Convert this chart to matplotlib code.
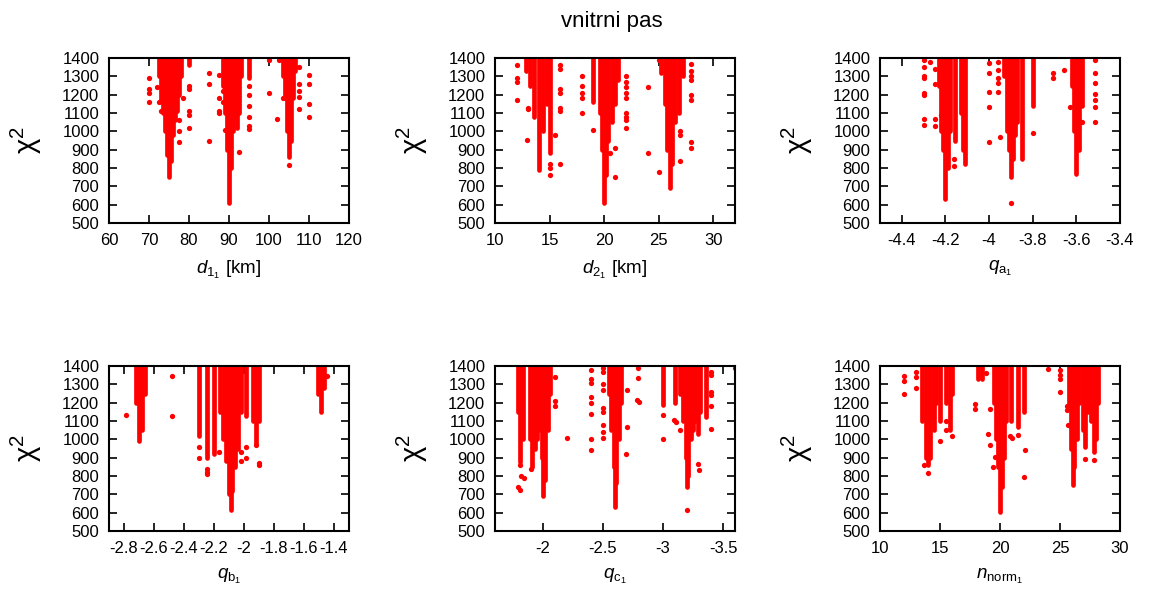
import matplotlib
matplotlib.use('Agg')
import matplotlib.pyplot as plt
from matplotlib.ticker import FormatStrFormatter

plt.rcParams['font.family'] = ['Liberation Sans', 'DejaVu Sans']
plt.rcParams['mathtext.fontset'] = 'custom'
plt.rcParams['mathtext.rm'] = 'Liberation Sans'
plt.rcParams['mathtext.it'] = 'Liberation Sans:italic'
plt.rcParams['axes.unicode_minus'] = False

RED = '#ff0000'
CHI_TOP = 1400

# ---- d_1_1 [km] ----
# dense columns: x and the lowest chi2 reached (they all run up to the top)
d11_strip_x = [72.5, 73.0, 73.5, 74.0, 74.5, 75.0, 75.5, 76.0, 76.5, 77.0, 77.5, 78.0, 80.0,
               88.5, 89.0, 89.5, 90.0, 90.5, 91.0, 91.5, 92.0, 92.5, 93.0, 95.0,
               103.5, 104.0, 104.5, 105.0, 105.5, 106.0, 106.5]
d11_strip_lo = [1300, 1170, 1100, 1000, 870, 750, 840, 980, 1060, 1110, 1200, 1300, 1360,
                1250, 1100, 900, 610, 800, 1000, 1080, 1020, 1100, 1300, 1290,
                1300, 1180, 1000, 860, 950, 1180, 1330]
d11_dot_x = [70, 70, 70, 70, 72, 72.5, 73, 77.5, 77.5, 77.5, 78.5, 80, 80, 80, 80, 80,
             85, 85, 85, 87.5, 87.5, 87.5, 87.5, 88.5, 88.5, 89, 92.5,
             95, 95, 95, 95, 95, 95, 100, 100, 102.5, 102, 103.5, 105,
             107.5, 107.5, 107.5, 107.5, 107.5, 110, 110, 110, 110]
d11_dot_y = [1290, 1230, 1210, 1160, 1240, 1160, 1110, 1060, 1000, 940, 1180, 1250, 1230, 1110, 1090, 1020,
             1320, 1260, 945, 1310, 1180, 1110, 1100, 1220, 1160, 1010, 890,
             1250, 1200, 1140, 1080, 1030, 1015, 1390, 1210, 1390, 1065, 1180, 815,
             1350, 1260, 1220, 1190, 1120, 1310, 1260, 1150, 1080]

# ---- d_2_1 [km] ----
d21_strip_x = [12.8, 13.2, 13.6, 14.0, 14.4, 14.8, 15.0,
               19.0, 19.6, 19.8, 20.0, 20.2, 20.4, 20.7, 21.0, 21.3,
               25.2, 25.6, 25.8, 26.0, 26.2, 26.5, 26.9, 27.2]
d21_strip_lo = [1330, 1250, 1080, 790, 1000, 1150, 880,
                1160, 1100, 900, 610, 760, 950, 1050, 1150, 1280,
                1320, 1150, 900, 690, 820, 1050, 1100, 1300]
d21_dot_x = [12, 12, 12, 12, 13, 13, 12.9, 15, 15, 15, 15.5, 16, 16, 16, 16, 16, 16, 16,
             18, 18, 18, 18, 18, 19, 20.5, 21, 21,
             22, 22, 22, 22, 22, 22, 22, 22, 22, 24, 24, 25, 25, 27, 27, 27,
             28, 28, 28, 28, 28, 28, 28, 28]
d21_dot_y = [1360, 1290, 1270, 1170, 1130, 1120, 955, 820, 800, 760, 980, 1360, 1340, 1230, 1210, 1130, 1110, 820,
             1300, 1250, 1210, 1180, 1100, 1010, 880, 910, 750,
             1300, 1270, 1240, 1210, 1180, 1100, 1080, 1060, 1020, 1240, 880, 1390, 780, 1000, 980, 840,
             1370, 1330, 1300, 1280, 1200, 1170, 940, 910]

# ---- q_a_1 ----
qa1_strip_x = [-4.23, -4.22, -4.21, -4.20, -4.19, -4.18, -4.155, -4.13, -4.12, -4.11,
               -3.93, -3.92, -3.91, -3.90, -3.89, -3.88, -3.87, -3.85, -3.80,
               -3.62, -3.61, -3.60, -3.59, -3.576]
qa1_strip_lo = [1250, 1000, 900, 630, 800, 1000, 950, 1100, 900, 820,
                1300, 1000, 900, 750, 850, 980, 1050, 850, 1140,
                1250, 1000, 770, 900, 1140]
qa1_dot_x = [-4.3, -4.3, -4.3, -4.3, -4.3, -4.3, -4.3, -4.3, -4.27, -4.25, -4.25, -4.25, -4.25, -4.22,
             -4.16, -4.16, -4.0, -4.0, -4.0, -4.0, -4.0, -3.957, -3.957, -3.957, -3.957, -3.957, -3.95,
             -3.9, -3.80, -3.705, -3.705, -3.655, -3.63, -3.576,
             -3.515, -3.515, -3.515, -3.515, -3.515, -3.515, -3.515]
qa1_dot_y = [1390, 1350, 1300, 1290, 1210, 1200, 1070, 1035, 1380, 1340, 1260, 1065, 1030, 1090,
             850, 810, 1372, 1316, 1216, 1133, 941, 1380, 1334, 1290, 1261, 1216, 968,
             610, 990, 1316, 1290, 1334, 1133, 1050,
             1390, 1316, 1261, 1206, 1170, 1133, 1050]

# ---- q_b_1 ----
qb1_strip_x = [-2.72, -2.70, -2.68, -2.66,
               -2.30, -2.25, -2.20, -2.16, -2.14, -2.12, -2.10, -2.09, -2.08, -2.06, -2.04, -2.02,
               -1.99, -1.94, -1.92, -1.90,
               -1.51, -1.49, -1.47]
qb1_strip_lo = [1200, 990, 1050, 1250,
                1020, 900, 920, 1150, 1000, 880, 700, 615, 720, 850, 950, 1150,
                1130, 1100, 980, 1100,
                1250, 1150, 1280]
qb1_dot_x = [-2.79, -2.48, -2.48, -2.30, -2.30, -2.25, -2.25, -2.25, -2.17,
             -2.02, -2.02, -1.99, -1.99, -1.92, -1.90, -1.90, -1.445]
qb1_dot_y = [1135, 1345, 1125, 960, 900, 840, 820, 810, 930,
             930, 880, 960, 900, 970, 870, 860, 1345]

# ---- q_c_1 (axis runs backwards) ----
qc1_strip_x = [-1.79, -1.81, -1.83, -1.89, -1.91, -1.93, -1.95, -1.97, -1.99, -2.00, -2.02, -2.04, -2.06,
               -2.55, -2.57, -2.59, -2.60, -2.61, -2.63, -2.65, -3.00,
               -3.10, -3.14, -3.17, -3.19, -3.20, -3.21, -3.23, -3.25, -3.27, -3.29, -3.31, -3.36]
qc1_strip_lo = [1150, 875, 1000, 1000, 850, 950, 1000, 1050, 900, 690, 780, 1050, 1250,
                1250, 1050, 850, 630, 760, 1000, 1200, 1190,
                1200, 1250, 1100, 900, 740, 800, 1000, 1050, 1100, 1030, 1150, 1120]
qc1_dot_x = [-1.81, -1.82, -1.84, -1.79, -1.81, -1.90, -2.10, -2.10, -2.10, -2.20,
             -2.397, -2.397, -2.397, -2.397, -2.397, -2.397, -2.397, -2.397,
             -2.50, -2.50, -2.50, -2.50, -2.50, -2.50, -2.50, -2.50, -2.50,
             -2.70, -2.70, -2.69, -2.79, -2.79, -2.78, -2.80, -3.00, -3.00,
             -3.09, -3.11, -3.14, -3.20, -3.29, -3.30,
             -3.40, -3.40, -3.40, -3.40, -3.40, -3.40, -3.60]
qc1_dot_y = [860, 800, 790, 740, 725, 840, 1340, 1210, 1180, 1010,
             1380, 1330, 1310, 1230, 1200, 1140, 1000, 940,
             1390, 1370, 1300, 1270, 1170, 1150, 1080, 1040, 1005,
             1268, 1070, 921, 1387, 1332, 1213, 1204, 1131, 1003,
             1103, 1094, 1050, 612, 866, 833,
             1370, 1350, 1260, 1240, 1180, 1058, 1390]

# ---- n_norm_1 ----
nn1_strip_x = [13.5, 13.8, 14.0, 14.2, 14.5, 14.7, 15.0, 15.5, 15.8, 16.0,
               18.2, 18.5, 19.5, 19.7, 19.85, 20.0, 20.15, 20.3, 20.5, 20.9, 21.5, 22.0,
               25.75, 25.9, 26.05, 26.2, 26.4, 26.55, 26.9, 27.1, 27.3, 27.6, 27.8, 28.0, 28.2]
nn1_strip_lo = [1100, 900, 860, 900, 1050, 1200, 1100, 1200, 1050, 1250,
                1330, 1330, 1200, 1000, 850, 606, 740, 900, 1100, 1100, 1070, 1150,
                1200, 950, 750, 850, 1000, 1200, 1050, 960, 1150, 1100, 930, 1000, 1200]
nn1_dot_x = [12, 12, 12, 13, 13, 13, 14, 13.7, 15, 15.5, 15.5, 16,
             17.9, 17.9, 18.8, 19.2, 19.0, 19.2, 19.6, 19.4, 20.8, 21.0, 21.5, 22.1, 22.0,
             24, 25.0, 25.0, 25.0, 25.0, 25.6, 25.6, 25.7, 27.1, 27.8]
nn1_dot_y = [1345, 1320, 1245, 1370, 1340, 1280, 815, 860, 990, 1100, 1050, 1020,
             1195, 1168, 1360, 1168, 1030, 967, 903, 848, 1016, 1007, 1025, 943, 792,
             1382, 1380, 1350, 1330, 1260, 1180, 1158, 1080, 893, 887]

y_ticks = [500, 600, 700, 800, 900, 1000, 1100, 1200, 1300, 1400]

panels = [
    # left px, top px, xlabel, xlim, xticks, strips, dots
    (109, 58, r'$d_{1_1}$ [km]', (60, 120), [60, 70, 80, 90, 100, 110, 120],
     d11_strip_x, d11_strip_lo, d11_dot_x, d11_dot_y),
    (495, 58, r'$d_{2_1}$ [km]', (10, 32), [10, 15, 20, 25, 30],
     d21_strip_x, d21_strip_lo, d21_dot_x, d21_dot_y),
    (880, 58, r'$q_{\mathrm{a}_1}$', (-4.5, -3.4), [-4.4, -4.2, -4.0, -3.8, -3.6, -3.4],
     qa1_strip_x, qa1_strip_lo, qa1_dot_x, qa1_dot_y),
    (109, 366, r'$q_{\mathrm{b}_1}$', (-2.9, -1.3), [-2.8, -2.6, -2.4, -2.2, -2.0, -1.8, -1.6, -1.4],
     qb1_strip_x, qb1_strip_lo, qb1_dot_x, qb1_dot_y),
    (495, 366, r'$q_{\mathrm{c}_1}$', (-1.6, -3.6), [-2.0, -2.5, -3.0, -3.5],
     qc1_strip_x, qc1_strip_lo, qc1_dot_x, qc1_dot_y),
    (880, 366, r'$n_{\mathrm{norm}_1}$', (10, 30), [10, 15, 20, 25, 30],
     nn1_strip_x, nn1_strip_lo, nn1_dot_x, nn1_dot_y),
]

W, H = 1149, 591
fig = plt.figure(figsize=(W / 100, H / 100), dpi=100)

for left, top, xlab, xlim, xt, sx, slo, dx, dy in panels:
    ax = fig.add_axes([left / W, 1 - (top + 165) / H, 240 / W, 165 / H])
    lc = ax.vlines(sx, slo, CHI_TOP, colors=RED, linewidth=3.4)
    lc.set_capstyle('round')
    ax.plot(dx, dy, 'o', color=RED, ms=3.8, mec='none')
    ax.set_xlim(*xlim)
    ax.set_ylim(500, 1400)
    ax.set_xticks(xt)
    ax.set_yticks(y_ticks)
    ax.xaxis.set_major_formatter(FormatStrFormatter('%g'))
    ax.tick_params(direction='in', top=True, right=True, length=6, width=1.2,
                   labelsize=12, pad=7)
    for s in ax.spines.values():
        s.set_linewidth(1.5)
    ax.set_xlabel(xlab, fontsize=13.5)
    ax.xaxis.set_label_coords(0.5, -0.22)
    ax.set_ylabel(r'$\mathrm{\chi}^2$', fontsize=21)
    ax.yaxis.set_label_coords(-0.27, 0.5)

fig.text(612 / W, 1 - 27 / H, 'vnitrni pas', ha='center', va='baseline', fontsize=16)

fig.savefig('out.png', dpi=100)
